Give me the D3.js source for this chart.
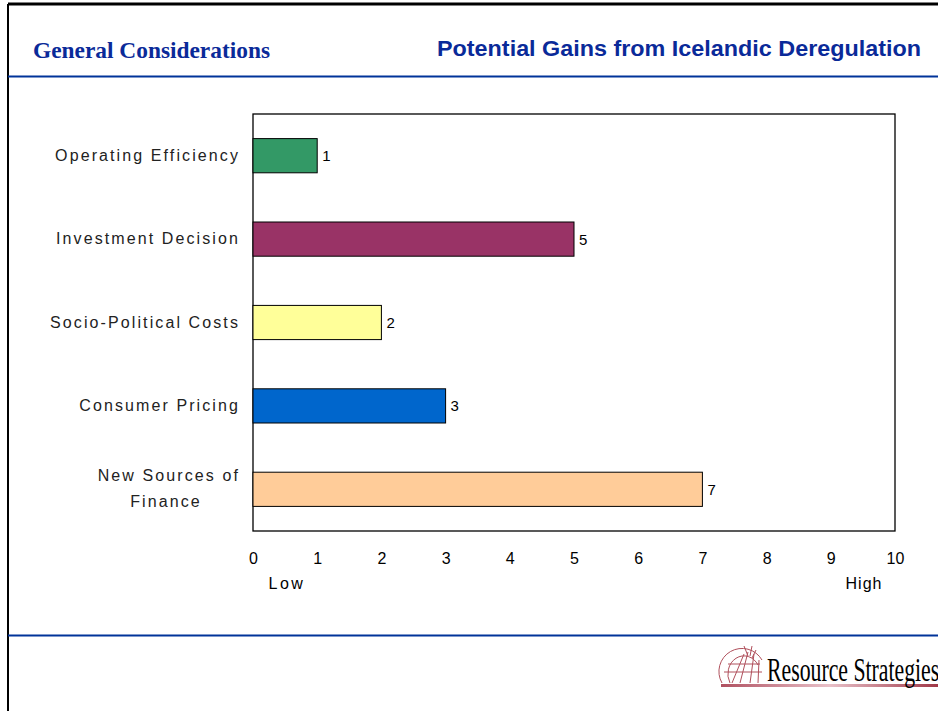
<!DOCTYPE html>
<html><head><meta charset="utf-8">
<script src="https://cdn.jsdelivr.net/npm/d3@7"></script>
<style>body{margin:0;background:#fff}svg{display:block}</style>
</head><body>
<svg id="c" width="938" height="711"></svg>
<script>
const categories = [["Operating Efficiency"],["Investment Decision"],["Socio-Political Costs"],["Consumer Pricing"],["New Sources of","Finance"]];
const values = [1,5,2,3,7];
const colors = ["#339966","#993366","#FFFF99","#0066CC","#FFCC99"];
const ticks = [0,1,2,3,4,5,6,7,8,9,10];

const svg = d3.select("#c");
// frame
svg.append("line").attr("x1",8).attr("x2",938).attr("y1",4).attr("y2",4).attr("stroke","#000").attr("stroke-width",3);
svg.append("line").attr("x1",8).attr("x2",8).attr("y1",4).attr("y2",711).attr("stroke","#000").attr("stroke-width",2);
svg.append("line").attr("x1",8).attr("x2",938).attr("y1",76.5).attr("y2",76.5).attr("stroke","#003399").attr("stroke-width",2);
svg.append("line").attr("x1",8).attr("x2",938).attr("y1",635.5).attr("y2",635.5).attr("stroke","#003399").attr("stroke-width",2);

svg.append("text").attr("x",33).attr("y",58).text("General Considerations")
  .attr("font-family","Liberation Serif").attr("font-weight","bold").attr("font-size",23)
  .attr("textLength",237).attr("lengthAdjust","spacingAndGlyphs").attr("fill","#0a2a99");
svg.append("text").attr("x",437).attr("y",56).text("Potential Gains from Icelandic Deregulation")
  .attr("font-family","Liberation Sans").attr("font-weight","bold").attr("font-size",22)
  .attr("textLength",484).attr("lengthAdjust","spacingAndGlyphs").attr("fill","#0a2a99");

const L=253,R=895,T=114,B=531;
const x = d3.scaleLinear().domain([0,10]).range([L,R]);
const y = d3.scaleBand().domain(d3.range(categories.length)).range([T,B]).paddingInner(0.59).paddingOuter(0.295);

svg.append("rect").attr("x",L).attr("y",T).attr("width",R-L).attr("height",B-T).attr("fill","#fff").attr("stroke","#000").attr("stroke-width",1.3);

svg.selectAll("rect.bar").data(values).join("rect").attr("class","bar")
  .attr("x",x(0)).attr("y",(d,i)=>y(i)).attr("width",d=>x(d)-x(0)).attr("height",y.bandwidth())
  .attr("fill",(d,i)=>colors[i]).attr("stroke","#000").attr("stroke-width",1);

svg.selectAll("text.val").data(values).join("text").attr("class","val")
  .attr("x",d=>x(d)+5).attr("y",(d,i)=>y(i)+y.bandwidth()/2+5.5).text(d=>d)
  .attr("font-family","Liberation Sans").attr("font-size",15).attr("fill","#000");

const lab = svg.selectAll("text.cat").data(categories).join("text").attr("class","cat")
  .attr("text-anchor","end").attr("font-family","Liberation Sans").attr("font-size",16).attr("letter-spacing",2.1).attr("fill","#222");
lab.each(function(lines,i){
  const t=d3.select(this);
  const cy=y(i)+y.bandwidth()/2;
  const n=lines.length;
  lines.forEach((s,k)=>{
    t.append("tspan").attr("x",240).attr("y",cy+5+(k-(n-1)/2)*26).text(s);
  });
});
lab.filter(d=>d.length>1).selectAll("tspan").filter((d,k)=>k===1).attr("x",166).attr("text-anchor","middle");

const axis = d3.axisBottom(x).tickValues(ticks).tickSize(0).tickPadding(0);
const g = svg.append("g").attr("transform",`translate(0,${B+33})`).call(axis);
g.select(".domain").remove();
g.selectAll("text").attr("font-family","Liberation Sans").attr("font-size",16).attr("fill","#000").attr("dy","0");

svg.append("text").attr("x",287).attr("y",589).attr("text-anchor","middle").text("Low")
  .attr("font-family","Liberation Sans").attr("font-size",16).attr("letter-spacing",2.5).attr("fill","#000");
svg.append("text").attr("x",864).attr("y",589).attr("text-anchor","middle").text("High")
  .attr("font-family","Liberation Sans").attr("font-size",16).attr("letter-spacing",1).attr("fill","#000");

// logo
const lg = svg.append("g");
const grad = svg.append("defs").append("linearGradient").attr("id","lgd");
grad.append("stop").attr("offset","0%").attr("stop-color","#b05060");
grad.append("stop").attr("offset","50%").attr("stop-color","#e8c0c8");
grad.append("stop").attr("offset","100%").attr("stop-color","#a03848");
lg.append("rect").attr("x",721).attr("y",684).attr("width",217).attr("height",3).attr("fill","url(#lgd)");
const gc = lg.append("g").attr("stroke","#b0505c").attr("fill","none").attr("stroke-width",1);
gc.append("path").attr("d","M722,683 A22,22 0 0 1 762,660");
gc.append("path").attr("d","M730,683 A16,18 0 0 1 758,665");
gc.append("path").attr("d","M740,683 L748,652 M732,683 L744,654 M750,683 L754,654 M758,683 L759,660 M724,672 L762,672 M728,664 L760,664");
gc.append("path").attr("d","M744,646 L748,656 M752,646 L750,656 M756,650 L752,658");
lg.append("text").attr("x",0).attr("y",0).text("Resource Strategies")
  .attr("transform","translate(767,681) scale(0.66,1)")
  .attr("font-family","Liberation Serif").attr("font-size",33).attr("fill","#000");
</script>
</body></html>
